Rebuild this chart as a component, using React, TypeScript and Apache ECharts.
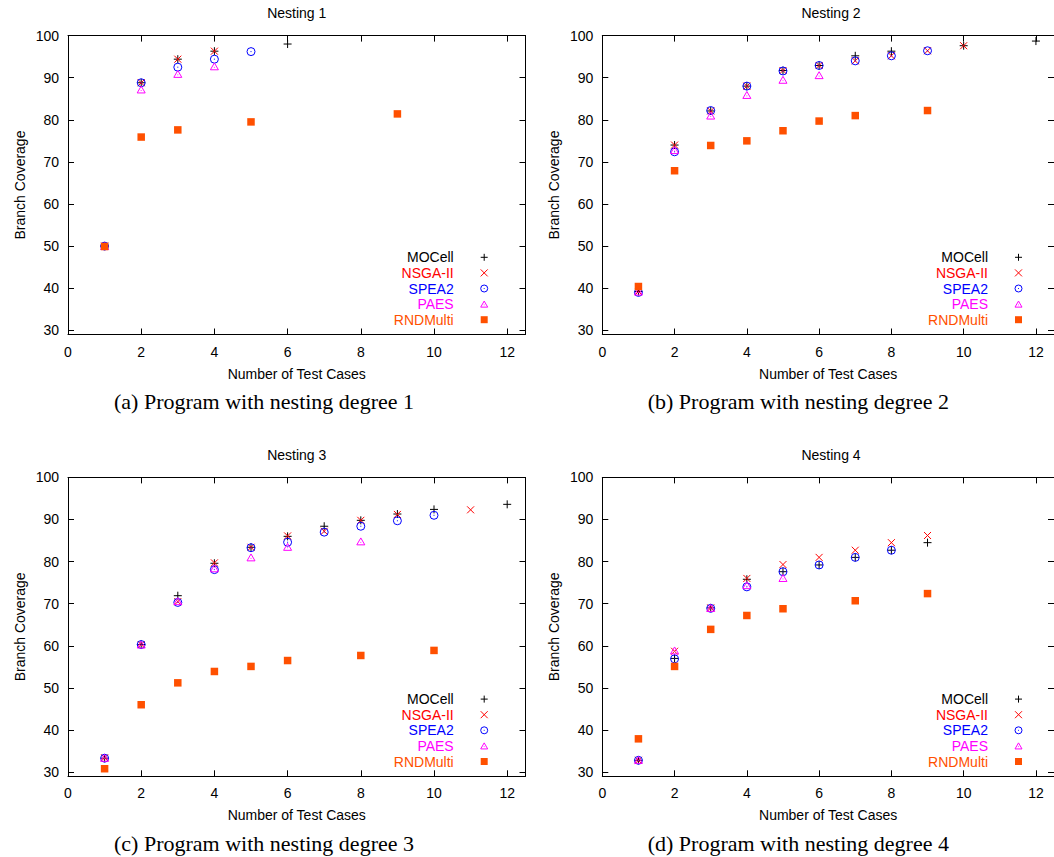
import React, { useEffect, useRef } from "react";
import * as echarts from "echarts";

// ---------- data ----------
const seriesNames = ["MOCell", "NSGA-II", "SPEA2", "PAES", "RNDMulti"];
const seriesColors = ["#000000", "#ff0000", "#0000ff", "#ff00ff", "#ff5000"];
const panelTitles = ["Nesting 1", "Nesting 2", "Nesting 3", "Nesting 4"];
const panelCaptions = [
  "(a) Program with nesting degree 1",
  "(b) Program with nesting degree 2",
  "(c) Program with nesting degree 3",
  "(d) Program with nesting degree 4",
];
const xTicks = [0, 2, 4, 6, 8, 10, 12];
const yTicks = [30, 40, 50, 60, 70, 80, 90, 100];
const xAxisTitle = "Number of Test Cases";
const yAxisTitle = "Branch Coverage";

// Nesting 1
const n1MOCell = [[1, 50.0], [2, 88.8], [3, 94.4], [4, 96.3], [6, 98.0]];
const n1NSGA = [[1, 50.0], [2, 88.8], [3, 94.4], [4, 96.3]];
const n1SPEA2 = [[1, 50.0], [2, 88.8], [3, 92.5], [4, 94.4], [5, 96.2]];
const n1PAES = [[1, 50.0], [2, 87.2], [3, 90.9], [4, 92.7]];
const n1RND = [[1, 49.9], [2, 75.9], [3, 77.6], [5, 79.5], [9, 81.4]];

// Nesting 2
const n2MOCell = [[1, 39.2], [2, 74.0], [3, 82.1], [4, 88.0], [5, 91.7], [6, 92.9], [7, 95.2], [8, 96.3], [10, 97.6], [12, 98.7]];
const n2NSGA = [[1, 39.2], [2, 74.0], [3, 82.1], [4, 88.0], [5, 91.7], [6, 92.9], [7, 94.0], [8, 95.2], [9, 96.4], [10, 97.6]];
const n2SPEA2 = [[1, 39.0], [2, 72.4], [3, 82.2], [4, 88.0], [5, 91.6], [6, 92.9], [7, 94.0], [8, 95.2], [9, 96.4]];
const n2PAES = [[1, 39.2], [2, 72.8], [3, 81.0], [4, 85.9], [5, 89.5], [6, 90.6]];
const n2RND = [[1, 40.4], [2, 67.9], [3, 73.9], [4, 75.0], [5, 77.4], [6, 79.7], [7, 81.0], [9, 82.2]];

// Nesting 3
const n3MOCell = [[1, 33.3], [2, 60.3], [3, 71.9], [4, 79.6], [5, 83.4], [6, 86.0], [7, 88.4], [8, 89.8], [9, 91.3], [10, 92.4], [12, 93.6]];
const n3NSGA = [[1, 33.4], [2, 60.3], [3, 70.5], [4, 79.7], [5, 83.4], [6, 86.1], [7, 87.2], [8, 89.8], [9, 91.2], [11, 92.3]];
const n3SPEA2 = [[1, 33.3], [2, 60.3], [3, 70.3], [4, 78.1], [5, 83.3], [6, 84.6], [7, 87.0], [8, 88.4], [9, 89.7], [10, 91.0]];
const n3PAES = [[1, 33.4], [2, 60.3], [3, 70.6], [4, 78.4], [5, 81.0], [6, 83.5], [8, 84.8]];
const n3RND = [[1, 30.8], [2, 46.0], [3, 51.2], [4, 53.9], [5, 55.1], [6, 56.5], [8, 57.7], [10, 58.9]];

// Nesting 4
const n4MOCell = [[1, 32.8], [2, 57.0], [3, 69.0], [4, 75.8], [5, 77.6], [6, 79.2], [7, 81.0], [8, 82.7], [9, 84.5]];
const n4NSGA = [[1, 32.8], [2, 58.7], [3, 69.0], [4, 76.0], [5, 79.3], [6, 81.0], [7, 82.7], [8, 84.5], [9, 86.2]];
const n4SPEA2 = [[1, 32.8], [2, 56.9], [3, 68.9], [4, 74.0], [5, 77.6], [6, 79.2], [7, 81.0], [8, 82.7]];
const n4PAES = [[1, 32.9], [2, 58.9], [3, 69.0], [4, 74.4], [5, 76.1]];
const n4RND = [[1, 37.9], [2, 55.1], [3, 63.9], [4, 67.2], [5, 68.8], [7, 70.7], [9, 72.4]];

const panels = [
  [n1MOCell, n1NSGA, n1SPEA2, n1PAES, n1RND],
  [n2MOCell, n2NSGA, n2SPEA2, n2PAES, n2RND],
  [n3MOCell, n3NSGA, n3SPEA2, n3PAES, n3RND],
  [n4MOCell, n4NSGA, n4SPEA2, n4PAES, n4RND],
];

// ---------- style / layout ----------
const W = 1054;
const H = 857;
const SANS = "'Liberation Sans', Arial, Helvetica, sans-serif";
const SERIF = "'Liberation Serif', 'Times New Roman', serif";
const GRID_LEFT = [68, 602.3, 68, 602.3];
const GRID_TOP = [35.6, 35.6, 477.4, 477.4];
const GRID_W = 457.5;
const GRID_H = 298.9;
const X_MIN = 0, X_MAX = 12.5, Y_MIN = 29, Y_MAX = 100;

const SYMBOLS = [
  "path://M5,0L5,10M0,5L10,5",
  "path://M0,0L10,10M10,0L0,10",
  "path://M9,5A4,4 0 1 1 1,5A4,4 0 1 1 9,5ZM5,4.5L5,5.5",
  "path://M5,0L10,8.66L0,8.66ZM5,5L5,6",
  "rect",
];
const SIZES = [8, 7, 8, 8, 7.5];

function buildOption() {
  const grid: any[] = [];
  const xAxis: any[] = [];
  const yAxis: any[] = [];
  const series: any[] = [];
  const legend: any[] = [];
  const graphic: any[] = [];

  const axisLine = { show: true, onZero: false, lineStyle: { color: "#000", width: 1 } };

  for (let p = 0; p < 4; p++) {
    grid.push({ left: GRID_LEFT[p], top: GRID_TOP[p], width: GRID_W, height: GRID_H, containLabel: false });
    const tickX = { show: true, inside: true, length: 6, customValues: xTicks, lineStyle: { color: "#000", width: 1 } };
    const tickY = { show: true, inside: true, length: 6, customValues: yTicks, lineStyle: { color: "#000", width: 1 } };
    xAxis.push({
      gridIndex: p, type: "value", position: "bottom", min: X_MIN, max: X_MAX,
      axisLine, axisTick: tickX,
      axisLabel: { customValues: xTicks, margin: 10, color: "#000", fontSize: 14, fontFamily: SANS },
      splitLine: { show: false },
      name: xAxisTitle, nameLocation: "middle", nameGap: 32,
      nameTextStyle: { color: "#000", fontSize: 14, fontFamily: SANS },
    });
    xAxis.push({
      gridIndex: p, type: "value", position: "top", min: X_MIN, max: X_MAX,
      axisLine, axisTick: tickX, axisLabel: { show: false }, splitLine: { show: false },
    });
    yAxis.push({
      gridIndex: p, type: "value", position: "left", min: Y_MIN, max: Y_MAX,
      axisLine, axisTick: tickY,
      axisLabel: { customValues: yTicks, margin: 9, color: "#000", fontSize: 14, fontFamily: SANS },
      splitLine: { show: false },
      name: yAxisTitle, nameLocation: "middle", nameGap: 41,
      nameTextStyle: { color: "#000", fontSize: 14, fontFamily: SANS },
    });
    yAxis.push({
      gridIndex: p, type: "value", position: "right", min: Y_MIN, max: Y_MAX,
      axisLine, axisTick: tickY, axisLabel: { show: false }, splitLine: { show: false },
    });

    panels[p].forEach((data, s) => {
      series.push({
        type: "scatter",
        name: seriesNames[s],
        xAxisIndex: p * 2,
        yAxisIndex: p * 2,
        data,
        symbol: SYMBOLS[s],
        symbolSize: SIZES[s],
        symbolKeepAspect: true,
        itemStyle: s === 4
          ? { color: seriesColors[s], opacity: 1 }
          : { color: "none", borderColor: seriesColors[s], borderWidth: 1, opacity: 1 },
        emphasis: { disabled: true },
      });
    });

    const iconCenterX = GRID_LEFT[p] + 418.7;
    legend.push({
      orient: "vertical",
      align: "right",
      right: W - (iconCenterX + 3.5),
      top: GRID_TOP[p] + 214.7,
      itemWidth: 7,
      itemHeight: 7,
      itemGap: 1.6,
      padding: 0,
      selectedMode: false,
      itemStyle: { borderWidth: 1 },
      textStyle: { fontSize: 14, fontFamily: SANS, padding: [0, 22, 0, 0] },
      data: seriesNames.map((n, i) => ({ name: n, textStyle: { color: seriesColors[i] } })),
    });

    graphic.push({
      type: "text",
      x: GRID_LEFT[p] + GRID_W / 2,
      y: GRID_TOP[p] - 22.3,
      style: { text: panelTitles[p], fill: "#000", font: `14px ${SANS}`, align: "center", verticalAlign: "middle" },
    });
    graphic.push({
      type: "text",
      x: GRID_LEFT[p] + 196,
      y: GRID_TOP[p] + 366,
      style: { text: panelCaptions[p], fill: "#000", font: `22px ${SERIF}`, align: "center", verticalAlign: "middle" },
    });
  }

  return { animation: false, backgroundColor: "#fff", grid, xAxis, yAxis, series, legend, graphic };
}

export default function App() {
  const ref = useRef<HTMLDivElement>(null);
  useEffect(() => {
    if (!ref.current) return;
    const chart = echarts.init(ref.current, null, { renderer: "svg", width: W, height: H });
    chart.setOption(buildOption());
    return () => chart.dispose();
  }, []);
  return <div ref={ref} style={{ position: "absolute", left: 0, top: 0, width: W, height: H, background: "#fff" }} />;
}
